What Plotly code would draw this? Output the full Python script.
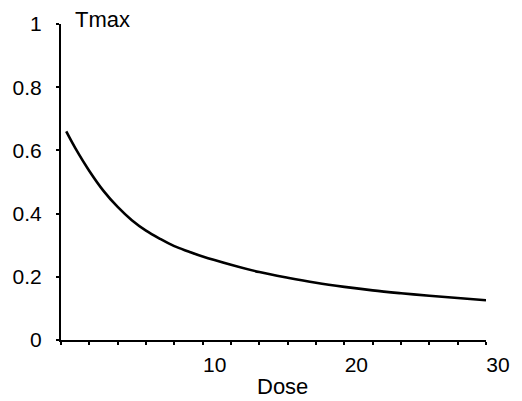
import plotly.graph_objects as go

dose = [0.37, 1, 2, 3, 4, 5, 6, 7, 8, 9, 10, 12, 14, 16, 18, 20, 22, 24, 26, 28, 30]
tmax = [0.660, 0.608, 0.535, 0.472, 0.421, 0.379, 0.346, 0.320, 0.297, 0.280, 0.264,
        0.238, 0.215, 0.197, 0.181, 0.168, 0.157, 0.148, 0.140, 0.133, 0.126]
x_ticks = [10, 20, 30]
y_ticks = [0, 0.2, 0.4, 0.6, 0.8, 1]
y_tick_labels = ["0", "0.2", "0.4", "0.6", "0.8", "1"]

font = dict(family="Liberation Sans, Arial, sans-serif", size=21, color="black")

fig = go.Figure()
fig.add_trace(go.Scatter(x=dose, y=tmax, mode="lines", line=dict(color="black", width=2.6, shape="spline", smoothing=1.0),
                         hoverinfo="skip", showlegend=False))

fig.update_layout(
    width=522, height=401,
    margin=dict(l=61, r=26, t=22, b=61),
    paper_bgcolor="white", plot_bgcolor="white",
    font=font,
    xaxis=dict(range=[0, 30], showgrid=False, zeroline=False, showline=True, linecolor="black", linewidth=2,
               tickmode="array", tickvals=x_ticks, ticktext=[str(v) for v in x_ticks],
               ticks="outside", ticklen=3, tickwidth=1.5, tickcolor="black",
               minor=dict(dtick=2, ticks="outside", ticklen=3, tickwidth=1.5, tickcolor="black"),
               ticklabelshift=12, ticklabelstandoff=2, tickfont=font),
    yaxis=dict(range=[0, 1], showgrid=False, zeroline=False, showline=True, linecolor="black", linewidth=2,
               tickmode="array", tickvals=y_ticks, ticktext=y_tick_labels,
               ticks="outside", ticklen=3, tickwidth=1.5, tickcolor="black",
               ticklabelstandoff=10, tickfont=font),
    annotations=[
        dict(text="Tmax", x=0.0276, y=1.0157, xref="paper", yref="paper", xanchor="left", yanchor="middle",
             showarrow=False, font=dict(family=font["family"], size=22, color="black")),
        dict(text="Dose", x=0.522, y=-0.148, xref="paper", yref="paper", xanchor="center", yanchor="middle",
             showarrow=False, font=dict(family=font["family"], size=22, color="black")),
    ],
)

fig.write_html("out.html")
